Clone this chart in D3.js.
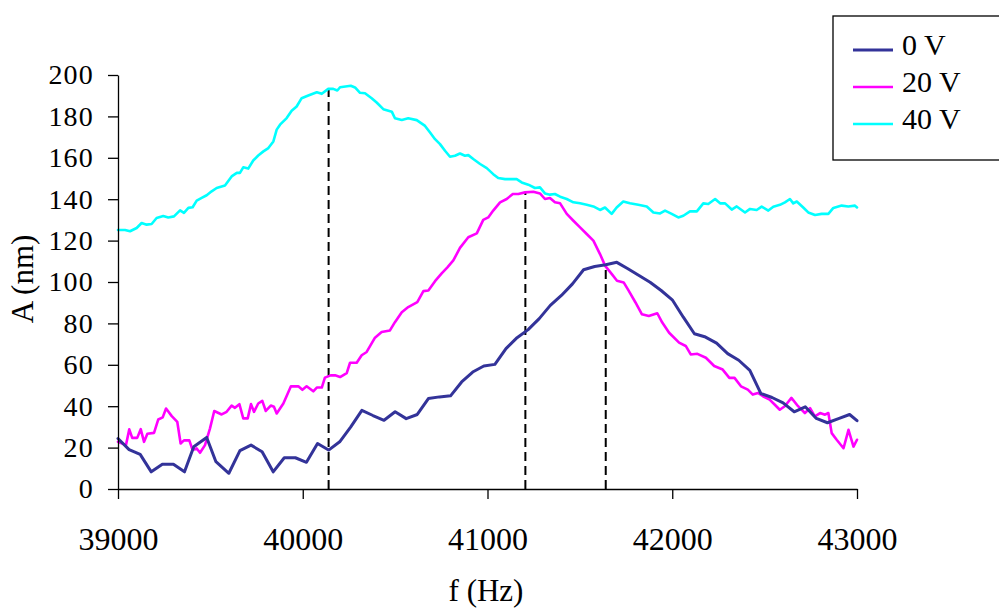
<!DOCTYPE html>
<meta charset="utf-8">
<style>
    body { margin: 0; background: #fff; }
    text {
        font-family: "Liberation Serif", "Times New Roman", serif;
        fill: #000;
    }
    .axis path, .axis line { stroke: #000; stroke-width: 1.3px; }
    .yAxis text { font-size: 28px; letter-spacing: 1.2px; }
    .xAxis text { font-size: 32px; }
    .series { fill: none; stroke-linejoin: round; stroke-linecap: round; }
    .peak { stroke: #000; stroke-width: 2px; stroke-dasharray: 9,5; }
</style>
<body>
<svg width="999" height="610"></svg>
</body>
<script src="https://d3js.org/d3.v7.min.js"></script>
<script>

    // ---- data ----
    var xTicks = [39000, 40000, 41000, 42000, 43000];
    var yTicks = [0, 20, 40, 60, 80, 100, 120, 140, 160, 180, 200];
    var seriesNames = ["0 V", "20 V", "40 V"];
    var seriesColors = ["#333399", "#ff00ff", "#00ffff"];

    // 0 V
    var f0 = [39000, 39060, 39120, 39180, 39240, 39300, 39360, 39410, 39480, 39530,
              39600, 39660, 39720, 39780, 39840, 39900, 39960, 40020, 40080, 40140,
              40200, 40260, 40320, 40380, 40440, 40500, 40560, 40620, 40680, 40740,
              40800, 40860, 40920, 40980, 41040, 41100, 41160, 41220, 41280, 41340,
              41400, 41460, 41520, 41580, 41640, 41700, 41760, 41820, 41880, 41940,
              42000, 42060, 42120, 42180, 42240, 42300, 42360, 42420, 42480, 42540,
              42600, 42660, 42720, 42780, 42840, 42900, 42960, 43000];
    var a0 = [24.4, 19.0, 16.7, 8.3, 12.0, 12.0, 8.3, 20.4, 24.9, 13.2,
              7.6, 18.5, 21.2, 18.0, 8.3, 15.1, 15.1, 12.9, 22.0, 18.8,
              22.8, 30.0, 38.0, 35.5, 33.2, 37.3, 34.0, 36.0, 43.7, 44.5,
              45.0, 51.7, 56.5, 59.4, 60.2, 67.8, 73.1, 77.0, 82.3, 88.7,
              93.5, 99.1, 105.9, 107.5, 108.3, 109.5, 106.4, 103.1, 99.9, 95.9,
              91.4, 83.0, 75.0, 73.4, 70.5, 65.4, 62.2, 57.3, 46.1, 44.2,
              41.6, 37.3, 39.7, 34.1, 32.0, 34.0, 36.0, 33.0];

    // 20 V
    var f20 = [39000, 39043, 39061, 39077, 39104, 39123, 39141, 39159, 39195, 39218,
               39242, 39260, 39291, 39321, 39339, 39357, 39386, 39404, 39426, 39444,
               39471, 39498, 39521, 39561, 39588, 39615, 39633, 39657, 39678, 39702,
               39720, 39736, 39759, 39781, 39800, 39827, 39844, 39859, 39895, 39936,
               39976, 39998, 40021, 40057, 40076, 40103, 40120, 40151, 40175, 40202,
               40238, 40256, 40292, 40319, 40346, 40391, 40427, 40472, 40499, 40536,
               40571, 40620, 40653, 40680, 40716, 40752, 40783, 40815, 40851, 40896,
               40942, 40977, 41004, 41031, 41068, 41104, 41137, 41167, 41203, 41248,
               41284, 41311, 41338, 41365, 41393, 41429, 41465, 41501, 41537, 41573,
               41609, 41637, 41673, 41701, 41737, 41764, 41801, 41836, 41873, 41919,
               41946, 41983, 42037, 42073, 42100, 42136, 42182, 42227, 42273, 42309,
               42337, 42372, 42409, 42436, 42464, 42491, 42527, 42554, 42582, 42609,
               42645, 42681, 42718, 42746, 42772, 42800, 42827, 42845, 42863, 42890,
               42927, 42954, 42981, 43000];
    var a20 = [22.8, 21.2, 28.8, 24.7, 24.7, 28.9, 22.8, 26.7, 27.1, 33.6,
               34.6, 38.9, 35.2, 32.4, 22.0, 23.5, 23.5, 18.8, 19.6, 17.5,
               21.2, 29.3, 37.7, 36.0, 37.3, 40.3, 39.2, 41.0, 34.1, 34.1,
               41.0, 37.3, 41.3, 42.6, 37.7, 40.3, 39.7, 36.5, 41.3, 49.6,
               49.6, 47.9, 49.6, 47.2, 49.0, 49.0, 53.8, 54.9, 54.9, 54.1,
               56.0, 61.0, 61.0, 64.6, 66.2, 73.1, 75.8, 76.6, 80.6, 85.4,
               87.9, 90.3, 95.6, 95.9, 100.4, 104.2, 107.1, 110.4, 116.5, 121.6,
               123.5, 130.0, 131.2, 134.5, 138.5, 140.1, 142.5, 142.5, 143.3, 143.6,
               142.8, 140.1, 140.6, 138.5, 138.0, 132.9, 129.6, 126.4, 123.2, 120.0,
               113.5, 107.8, 103.8, 100.6, 99.8, 95.8, 90.1, 84.4, 83.6, 84.9,
               80.4, 75.5, 70.7, 69.1, 65.0, 65.3, 63.4, 59.4, 57.7, 53.7,
               53.7, 49.6, 48.0, 45.6, 46.4, 44.8, 43.2, 40.8, 38.3, 40.0,
               44.0, 40.0, 36.7, 39.1, 35.1, 36.7, 35.9, 36.7, 27.0, 23.8,
               19.7, 28.6, 20.5, 23.8];

    // 40 V
    var f40 = [39000, 39038, 39065, 39101, 39128, 39155, 39182, 39209, 39245, 39272,
               39303, 39336, 39357, 39381, 39404, 39426, 39453, 39480, 39507, 39534,
               39579, 39615, 39643, 39660, 39678, 39705, 39732, 39759, 39787, 39814,
               39841, 39859, 39877, 39913, 39940, 39967, 39994, 40030, 40076, 40103,
               40138, 40165, 40187, 40202, 40260, 40283, 40310, 40337, 40373, 40400,
               40436, 40482, 40499, 40536, 40571, 40617, 40662, 40689, 40716, 40743,
               40770, 40797, 40824, 40851, 40878, 40896, 40923, 40960, 40996, 41031,
               41058, 41095, 41122, 41158, 41185, 41221, 41257, 41284, 41311, 41338,
               41365, 41393, 41429, 41465, 41501, 41537, 41573, 41609, 41636, 41672,
               41699, 41735, 41771, 41816, 41862, 41898, 41934, 41961, 41997, 42033,
               42060, 42096, 42133, 42168, 42195, 42232, 42259, 42286, 42322, 42349,
               42394, 42421, 42457, 42484, 42520, 42547, 42583, 42610, 42637, 42655,
               42674, 42709, 42736, 42773, 42809, 42845, 42872, 42917, 42953, 42989,
               43000];
    var a40 = [125.1, 125.1, 124.5, 126.1, 128.5, 127.7, 128.0, 130.9, 131.9, 131.2,
               131.7, 134.6, 133.4, 135.8, 136.1, 139.3, 140.6, 141.9, 143.8, 145.4,
               146.6, 151.0, 152.7, 152.7, 155.4, 154.8, 158.7, 161.1, 163.1, 164.7,
               167.9, 173.6, 176.0, 179.2, 182.7, 184.8, 188.8, 190.1, 191.7, 190.9,
               193.3, 193.3, 192.5, 194.1, 194.8, 194.0, 191.4, 191.2, 188.8, 186.7,
               183.5, 182.3, 179.1, 178.3, 179.1, 178.2, 175.4, 172.2, 169.0, 166.6,
               163.4, 160.5, 161.0, 162.1, 161.0, 161.3, 159.4, 157.0, 155.0, 152.1,
               150.2, 149.7, 149.7, 149.7, 148.1, 147.0, 145.4, 145.7, 142.8, 142.2,
               142.5, 141.2, 140.1, 138.5, 138.0, 137.3, 136.5, 134.8, 136.0, 132.9,
               136.0, 138.9, 138.0, 137.3, 136.5, 133.6, 133.1, 134.5, 132.9, 131.2,
               132.0, 134.1, 134.1, 138.0, 137.7, 140.1, 138.0, 138.0, 135.0, 136.5,
               133.6, 135.3, 134.8, 136.4, 134.5, 136.4, 137.3, 138.5, 140.1, 138.0,
               138.9, 136.0, 133.6, 132.4, 132.9, 132.9, 135.8, 136.9, 136.5, 136.9,
               136.0];

    // resonance markers: frequency and amplitude at the peak
    var peakF = [40140, 41205, 41640];
    var peakA = [193.3, 143.3, 108.6];

    // ---- chart ----
    var svg = d3.select("svg");

    var x = d3.scaleLinear().domain([39000, 43000]).range([118, 857]);
    var y = d3.scaleLinear().domain([0, 200]).range([489, 75]);

    var line = d3.line()
            .x(function (d) { return x(d[0]); })
            .y(function (d) { return y(d[1]); });

    var series = [d3.zip(f0, a0), d3.zip(f20, a20), d3.zip(f40, a40)];
    var widths = [3, 2.6, 2.6];

    // dashed resonance lines (drawn under the curves)
    svg.selectAll(".peak")
            .data(d3.zip(peakF, peakA))
            .enter().append("line")
            .attr("class", "peak")
            .attr("x1", function (d) { return x(d[0]); })
            .attr("x2", function (d) { return x(d[0]); })
            .attr("y1", y(0))
            .attr("y2", function (d) { return y(d[1]); });

    // draw 40 V first, 0 V on top
    [2, 1, 0].forEach(function (i) {
        svg.append("path")
                .datum(series[i])
                .attr("class", "series")
                .attr("stroke", seriesColors[i])
                .attr("stroke-width", widths[i])
                .attr("d", line);
    });

    // axes
    svg.append("g")
            .attr("class", "axis yAxis")
            .attr("transform", "translate(" + x(39000) + ",0)")
            .call(d3.axisLeft(y).tickValues(yTicks).tickSize(10).tickPadding(14).tickSizeOuter(0));

    svg.append("g")
            .attr("class", "axis xAxis")
            .attr("transform", "translate(0," + y(0) + ")")
            .call(d3.axisBottom(x).tickValues(xTicks).tickFormat(d3.format("d"))
                    .tickSize(10).tickPadding(28).tickSizeOuter(0));

    // axis titles
    svg.append("text")
            .attr("transform", "translate(33,279) rotate(-90)")
            .style("text-anchor", "middle")
            .style("font-size", "31px")
            .text("A (nm)");

    svg.append("text")
            .attr("x", 486)
            .attr("y", 601)
            .style("text-anchor", "middle")
            .style("font-size", "31px")
            .text("f (Hz)");

    // legend
    var legend = svg.append("g").attr("transform", "translate(833,16)");
    legend.append("rect")
            .attr("width", 180)
            .attr("height", 144)
            .attr("fill", "#fff")
            .attr("stroke", "#000")
            .attr("stroke-width", 1.3);

    var item = legend.selectAll(".item")
            .data(seriesNames)
            .enter().append("g")
            .attr("class", "item")
            .attr("transform", function (d, i) { return "translate(0," + (34 + i * 37) + ")"; });

    item.append("line")
            .attr("x1", 20).attr("x2", 60)
            .attr("stroke", function (d, i) { return seriesColors[i]; })
            .attr("stroke-width", function (d, i) { return widths[i]; });

    item.append("text")
            .attr("x", 69)
            .attr("y", 5)
            .style("font-size", "30px")
            .text(function (d) { return d; });

</script>
